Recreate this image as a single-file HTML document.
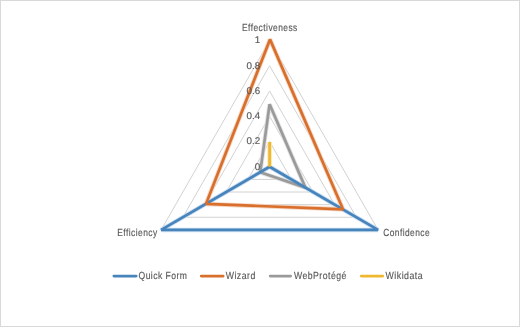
<!DOCTYPE html>
<html><head><meta charset="utf-8"><style>
html,body{margin:0;padding:0;background:#fff;}
body{width:520px;height:327px;overflow:hidden;}
svg{display:block;filter:blur(0.3px);}
text{text-rendering:geometricPrecision;font-family:"Liberation Sans",sans-serif;font-size:10.3px;fill:#595959;stroke:#595959;stroke-width:0.15px;}
text.ax{font-size:9.8px;}
</style></head><body>
<svg width="520" height="327" viewBox="0 0 520 327">
<rect x="0.5" y="0.5" width="519" height="326" fill="#fff" stroke="#d9d9d9" stroke-width="1"/>
<polygon points="269.60,141.52 291.29,179.40 247.91,179.40" fill="none" stroke="#d2d2d2" stroke-width="1"/>
<polygon points="269.60,116.26 312.97,192.02 226.23,192.02" fill="none" stroke="#d2d2d2" stroke-width="1"/>
<polygon points="269.60,91.01 334.66,204.65 204.54,204.65" fill="none" stroke="#d2d2d2" stroke-width="1"/>
<polygon points="269.60,65.75 356.34,217.28 182.86,217.28" fill="none" stroke="#d2d2d2" stroke-width="1"/>
<polygon points="269.60,40.50 378.03,229.91 161.17,229.91" fill="none" stroke="#d2d2d2" stroke-width="1"/>
<polygon points="269.60,104.30 305.38,187.60 260.20,172.30" fill="none" stroke="#e2e2e2" stroke-width="4.5" stroke-linejoin="bevel"/>
<polygon points="269.60,166.77 378.03,229.91 161.17,229.91" fill="none" stroke="#c9def2" stroke-width="4.5" stroke-linejoin="bevel"/>
<polygon points="270.00,39.40 343.00,209.30 206.00,203.90" fill="none" stroke="#f5d6c2" stroke-width="4.5" stroke-linejoin="bevel"/>
<polygon points="269.60,141.90 269.60,166.77 269.60,166.77" fill="none" stroke="#f9e5b0" stroke-width="4.5" stroke-linejoin="bevel"/>
<polygon points="269.60,104.30 305.38,187.60 260.20,172.30" fill="none" stroke="#9a9a9a" stroke-width="2.7" stroke-linejoin="bevel"/>
<polygon points="269.60,166.77 378.03,229.91 161.17,229.91" fill="none" stroke="#4884bc" stroke-width="2.7" stroke-linejoin="bevel"/>
<polygon points="270.00,39.40 343.00,209.30 206.00,203.90" fill="none" stroke="#d86f2c" stroke-width="2.7" stroke-linejoin="bevel"/>
<polygon points="269.60,141.90 269.60,166.77 269.60,166.77" fill="none" stroke="#efb82e" stroke-width="2.7" stroke-linejoin="bevel"/>
<text class="ax" x="260.1" y="169.67" text-anchor="end">0</text>
<text class="ax" x="260.1" y="144.42" text-anchor="end">0.2</text>
<text class="ax" x="260.1" y="119.16" text-anchor="end">0.4</text>
<text class="ax" x="260.1" y="93.91" text-anchor="end">0.6</text>
<text class="ax" x="260.1" y="68.65" text-anchor="end">0.8</text>
<text class="ax" x="260.1" y="43.40" text-anchor="end">1</text>
<text transform="translate(241.99,30.6) scale(0.8178,1)" letter-spacing="0.55">Effectiveness</text>
<text transform="translate(117.25,236.2) scale(0.8180,1)" letter-spacing="0.55">Efficiency</text>
<text transform="translate(383.15,236.2) scale(0.8152,1)" letter-spacing="0.55">Confidence</text>
<text transform="translate(138.5,279.0) scale(0.8332,1)" letter-spacing="0.55">Quick Form</text>
<text transform="translate(225.71,279.0) scale(0.8500,1)" letter-spacing="0.55">Wizard</text>
<text transform="translate(294.03,279.0) scale(0.8432,1)" letter-spacing="0.55">WebProtégé</text>
<text transform="translate(385.54,279.0) scale(0.8557,1)" letter-spacing="0.55">Wikidata</text>
<g stroke-width="2.6" stroke-linecap="round">
<line x1="113.8" y1="276.1" x2="136.2" y2="276.1" stroke="#4884bc"/>
<line x1="201.2" y1="276.1" x2="223.2" y2="276.1" stroke="#d86f2c"/>
<line x1="270.1" y1="276.1" x2="290.7" y2="276.1" stroke="#9a9a9a"/>
<line x1="361.2" y1="276.1" x2="382.8" y2="276.1" stroke="#efb82e"/>
</g>
</svg>
</body></html>
